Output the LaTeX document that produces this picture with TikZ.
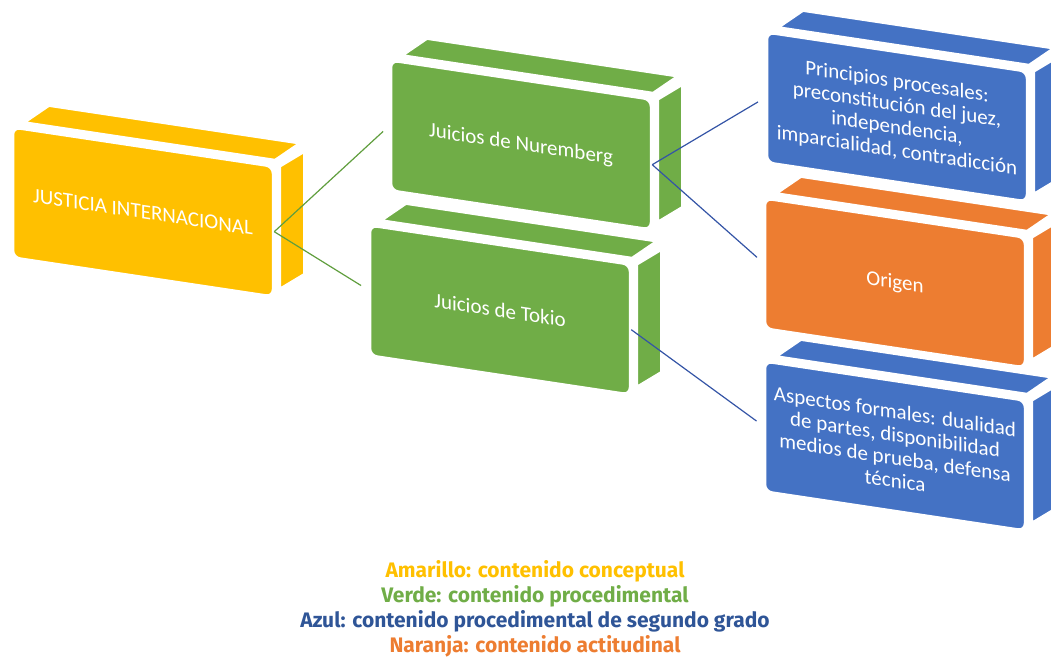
\documentclass[tikz,border=0pt]{standalone}
\usepackage{fontspec}
\setmainfont{Carlito}
\newfontfamily\legendfont{Fira Sans}
\usetikzlibrary{positioning, calc}

\begin{document}
\begin{tikzpicture}[x=1pt, y=-1pt,
        cara/.style={draw=white, line width=2.5pt, rounded corners=7pt, minimum width=260pt, minimum height=130pt,
            text=white, align=center, inner sep=0pt, font=\fontsize{21}{23}\selectfont},
        tira/.style={draw=white, line width=2pt},
        enlace/.style={line width=1.2pt, shorten >=9pt},
        leyenda/.style={inner sep=0pt, font=\legendfont\bfseries\fontsize{21}{25}\selectfont}]

        % Colores
        \definecolor{amarillo}{RGB}{255, 192, 0}
        \definecolor{verde}{RGB}{112, 173, 71}
        \definecolor{azul}{RGB}{68, 114, 196}
        \definecolor{naranja}{RGB}{237, 125, 49}
        \definecolor{azuloscuro}{RGB}{47, 85, 151}
        \definecolor{lineaverde}{RGB}{96, 158, 62}
        \definecolor{lineaazul}{RGB}{52, 84, 166}

        \useasboundingbox (0,0) rectangle (1051,658);
        \clip (0,0) rectangle (1051,658);

        % 1. Bloques en perspectiva (cara frontal, tira superior y lateral)
        \foreach \nm/\cx/\cy/\col/\txt in {
            aspb/895/446/azul/{Aspectos formales: dualidad\\de partes, disponibilidad\\medios de prueba, defensa\\técnica},
            orig/895/283/naranja/{Origen},
            princ/897/117/azul/{Principios procesales:\\preconstitución del juez,\\independencia,\\imparcialidad, contradicción},
            tok/500/310/verde/{Juicios de Tokio},
            nur/521/145/verde/{Juicios de Nuremberg},
            just/143/212/amarillo/{JUSTICIA INTERNACIONAL}} {
            \begin{scope}[shift={(\cx,\cy)}, cm={1,-0.15,0,1,(0,0)}]
                \path[fill=\col, tira] (-118,-72) -- (132,-72) -- (156,-92) -- (-94,-92) -- cycle;
                \path[fill=\col, tira] (137,-66) -- (161,-84) -- (161,38) -- (137,56) -- cycle;
                \node[cara, fill=\col, transform shape] (\nm) at (0,0) {\txt};
            \end{scope}
        }

        % 2. Conexiones
        \draw[enlace, lineaverde] (just.east) -- (nur.west);
        \draw[enlace, lineaverde] (just.east) -- (tok.west);
        \draw[enlace, lineaazul] (nur.east) -- (princ.west);
        \draw[enlace, lineaazul] (nur.east) -- (orig.west);
        \draw[enlace, lineaazul] (tok.east) -- (aspb.west);

        % 3. Leyenda de colores
        \foreach \col/\yy/\lin [count=\i] in {
            amarillo/571/{Amarillo: contenido conceptual},
            verde/596/{Verde: contenido procedimental},
            azuloscuro/621/{Azul: contenido procedimental de segundo grado},
            naranja/646/{Naranja: contenido actitudinal}} {
            \node[leyenda, text=\col] (ley\i) at (535,\yy) {\lin};
        }

\end{tikzpicture}
\end{document}
